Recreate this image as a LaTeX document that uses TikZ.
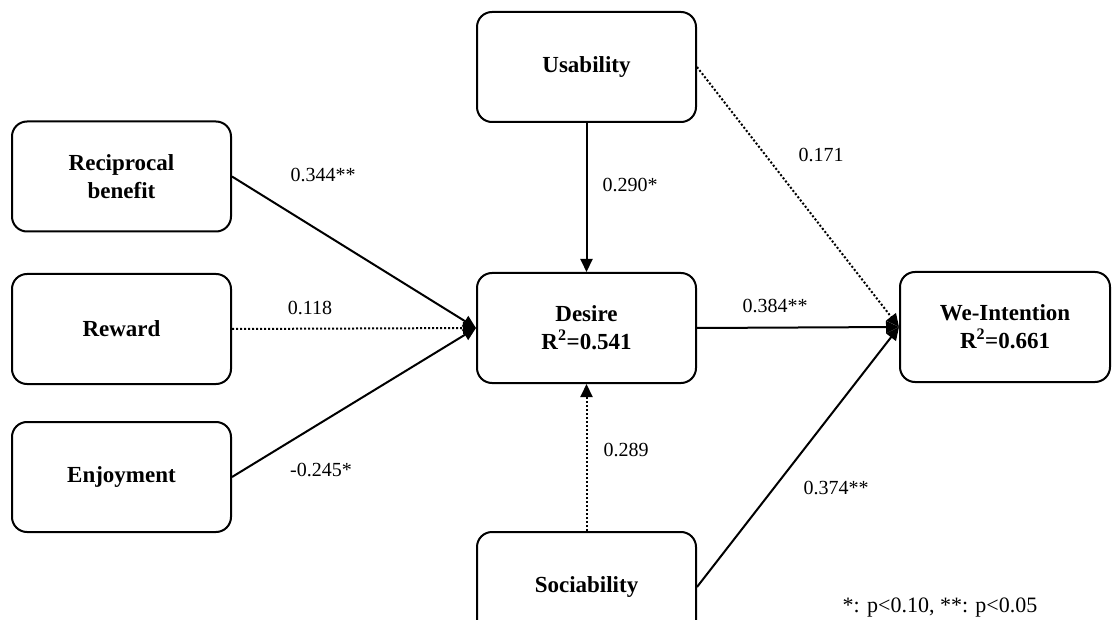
\documentclass[tikz,border=0pt]{standalone}
\usepackage{fontspec}
\setmainfont{Liberation Serif}
\usetikzlibrary{arrows.meta}
\begin{document}
\begin{tikzpicture}[x=1pt,y=-1pt,
  box/.style={draw, line width=2pt, rounded corners=15pt, minimum width=219pt, minimum height=110pt,
    align=center, font=\fontsize{23}{28}\selectfont\bfseries, inner sep=0pt},
  lbl/.style={font=\fontsize{20}{24}\selectfont, inner sep=0pt, text depth=0pt},
  sig/.style={line width=2pt, -{Triangle[length=13pt,width=12pt]}},
  nsig/.style={sig, dash pattern=on 2pt off 2pt}]
\useasboundingbox (0,0) rectangle (1113,620);
\clip (0,0) rectangle (1113,620);
\fill[white] (0,0) rectangle (1113,620);
% boxes
\node[box] (use) at (586.5,67) {Usability};
\node[box] (rec) at (121.5,176.5) {Reciprocal\\benefit};
\node[box] (rew) at (121.5,329) {Reward};
\node[box] (enj) at (121.5,477) {Enjoyment};
\node[box] (des) at (586.5,328) {Desire\\R\textsuperscript{2}=0.541};
\node[box, minimum width=210pt] (wei) at (1005,327) {We-Intention\\R\textsuperscript{2}=0.661};
\node[box] (soc) at (586.5,587) {Sociability};
% paths
\draw[sig] (rec.east) -- (des.west);
\draw[nsig] (rew.east) -- (des.west);
\draw[sig] (enj.east) -- (des.west);
\draw[sig] (use.south) -- (des.north);
\draw[nsig] (soc.north) -- (des.south);
\draw[nsig] (use.east) -- (wei.west);
\draw[sig] (des.east) -- (wei.west);
\draw[sig] (soc.east) -- (wei.west);
% labels
\node[lbl] (l1) at (323,175) {0.344**};
\node[lbl] (l2) at (310,308) {0.118};
\node[lbl] (l3) at (321,470) {-0.245*};
\node[lbl] (l4) at (630,185) {0.290*};
\node[lbl] (l5) at (821,155) {0.171};
\node[lbl] (l6) at (775,306) {0.384**};
\node[lbl] (l7) at (626,450) {0.289};
\node[lbl] (l8) at (836,488) {0.374**};
\node[lbl, font=\fontsize{22}{26}\selectfont] (note) at (940,605) {*: p<0.10, **: p<0.05};
\end{tikzpicture}
\end{document}
